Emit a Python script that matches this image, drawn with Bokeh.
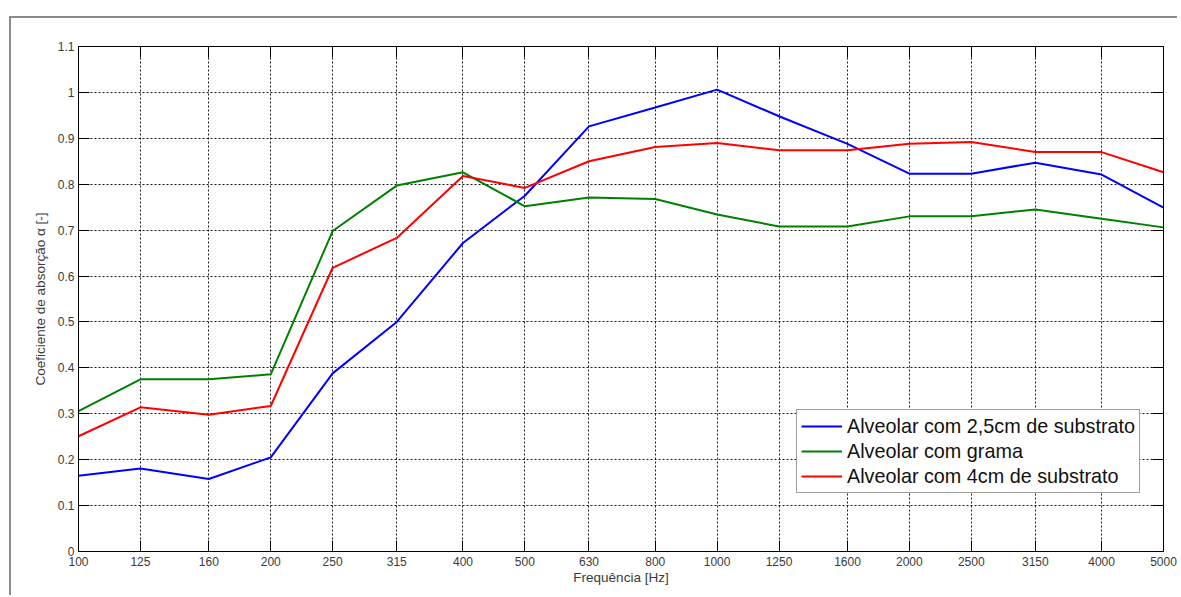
from bokeh.plotting import figure
from bokeh.models import (Range1d, FixedTicker, CustomJSTickFormatter, LinearAxis,
                          LogAxis, Legend, LegendItem)
from bokeh.embed import file_html
from bokeh.resources import INLINE

# ---- data ----
freqs = [100, 125, 160, 200, 250, 315, 400, 500, 630, 800, 1000, 1250,
         1600, 2000, 2500, 3150, 4000, 5000]
y_ticks = [0, 0.1, 0.2, 0.3, 0.4, 0.5, 0.6, 0.7, 0.8, 0.9, 1.0, 1.1]

blue_25cm = [0.165, 0.181, 0.158, 0.205, 0.388, 0.500, 0.672, 0.775, 0.926,
             0.967, 1.006, 0.948, 0.888, 0.823, 0.823, 0.847, 0.821, 0.749]
green_grama = [0.306, 0.375, 0.375, 0.386, 0.698, 0.797, 0.826, 0.752, 0.771,
               0.768, 0.734, 0.708, 0.708, 0.730, 0.730, 0.745, 0.725, 0.706]
red_4cm = [0.251, 0.314, 0.298, 0.317, 0.618, 0.683, 0.818, 0.792, 0.850,
           0.881, 0.890, 0.874, 0.874, 0.888, 0.892, 0.870, 0.870, 0.826]

series_names = ["Alveolar com 2,5cm de substrato", "Alveolar com grama",
                "Alveolar com 4cm de substrato"]
series_colors = ["#0000ff", "#008000", "#ff0000"]

FONT = "Liberation Sans"
TXT = "#3a3a3a"

p = figure(width=1168, height=579, x_axis_type="log",
           x_range=Range1d(100, 5000), y_range=Range1d(0, 1.1),
           output_backend="svg", toolbar_location=None, title=None,
           min_border_left=67, min_border_right=16, min_border_top=28,
           min_border_bottom=46)
p.margin = (16, 0, 0, 9)
p.styles = {"border-top": "2px solid #8c8c8c", "border-left": "2px solid #8c8c8c"}

p.outline_line_color = "#000000"
p.outline_line_width = 1

xticker = FixedTicker(ticks=freqs)
yticker = FixedTicker(ticks=y_ticks)
xfmt = CustomJSTickFormatter(code="return String(Math.round(tick));")
yfmt = CustomJSTickFormatter(code="var s = tick.toFixed(1); return s.endsWith('.0') ? s.slice(0, -2) : s;")
blank = CustomJSTickFormatter(code="return '';")

xa = p.xaxis[0]
xa.ticker = xticker
xa.formatter = xfmt
xa.axis_label = "Frequência [Hz]"
ya = p.yaxis[0]
ya.ticker = yticker
ya.formatter = yfmt
ya.axis_label = "Coeficiente de absorção α [-]"

for ax in (xa, ya):
    ax.major_tick_in = 11
    ax.major_tick_out = 0
    ax.minor_tick_in = 0
    ax.minor_tick_out = 0
    ax.axis_line_color = "#000000"
    ax.major_tick_line_color = "#000000"
    ax.major_label_text_font = FONT
    ax.major_label_text_font_size = "12px"
    ax.major_label_text_color = TXT
    ax.axis_label_text_font = FONT
    ax.axis_label_text_font_size = "13.5px"
    ax.axis_label_text_font_style = "normal"
    ax.axis_label_text_color = TXT
xa.major_label_standoff = 5
xa.axis_label_standoff = 1
ya.major_label_standoff = 4
ya.axis_label_standoff = 7

top = LogAxis(ticker=xticker, formatter=blank)
right = LinearAxis(ticker=yticker, formatter=blank)
for ax in (top, right):
    ax.major_tick_in = 11
    ax.major_tick_out = 0
    ax.minor_tick_in = 0
    ax.minor_tick_out = 0
    ax.major_label_standoff = 0
    ax.axis_line_color = "#000000"
    ax.major_tick_line_color = "#000000"
p.add_layout(top, "above")
p.add_layout(right, "right")

p.xgrid.ticker = xticker
p.ygrid.ticker = yticker
for g in (p.xgrid[0], p.ygrid[0]):
    g.grid_line_color = "#1a1a1a"
    g.grid_line_dash = "2 2"
    g.grid_line_width = 1

items = []
for name, vals, col in zip(series_names, [blue_25cm, green_grama, red_4cm], series_colors):
    r = p.line(freqs, vals, line_color=col, line_width=2)
    items.append(LegendItem(label=name, renderers=[r]))

legend = Legend(items=items, location=(718, 58))
legend.label_text_font = FONT
legend.label_text_font_size = "19.8px"
legend.label_text_color = "#111111"
legend.glyph_width = 41
legend.glyph_height = 24
legend.label_height = 24
legend.label_standoff = 5
legend.spacing = 1
legend.padding = 4
legend.margin = 0
legend.border_line_color = "#404040"
legend.border_line_width = 1
legend.background_fill_color = "white"
legend.background_fill_alpha = 1
p.add_layout(legend, "center")

open("out.html", "w").write(file_html(p, INLINE))
